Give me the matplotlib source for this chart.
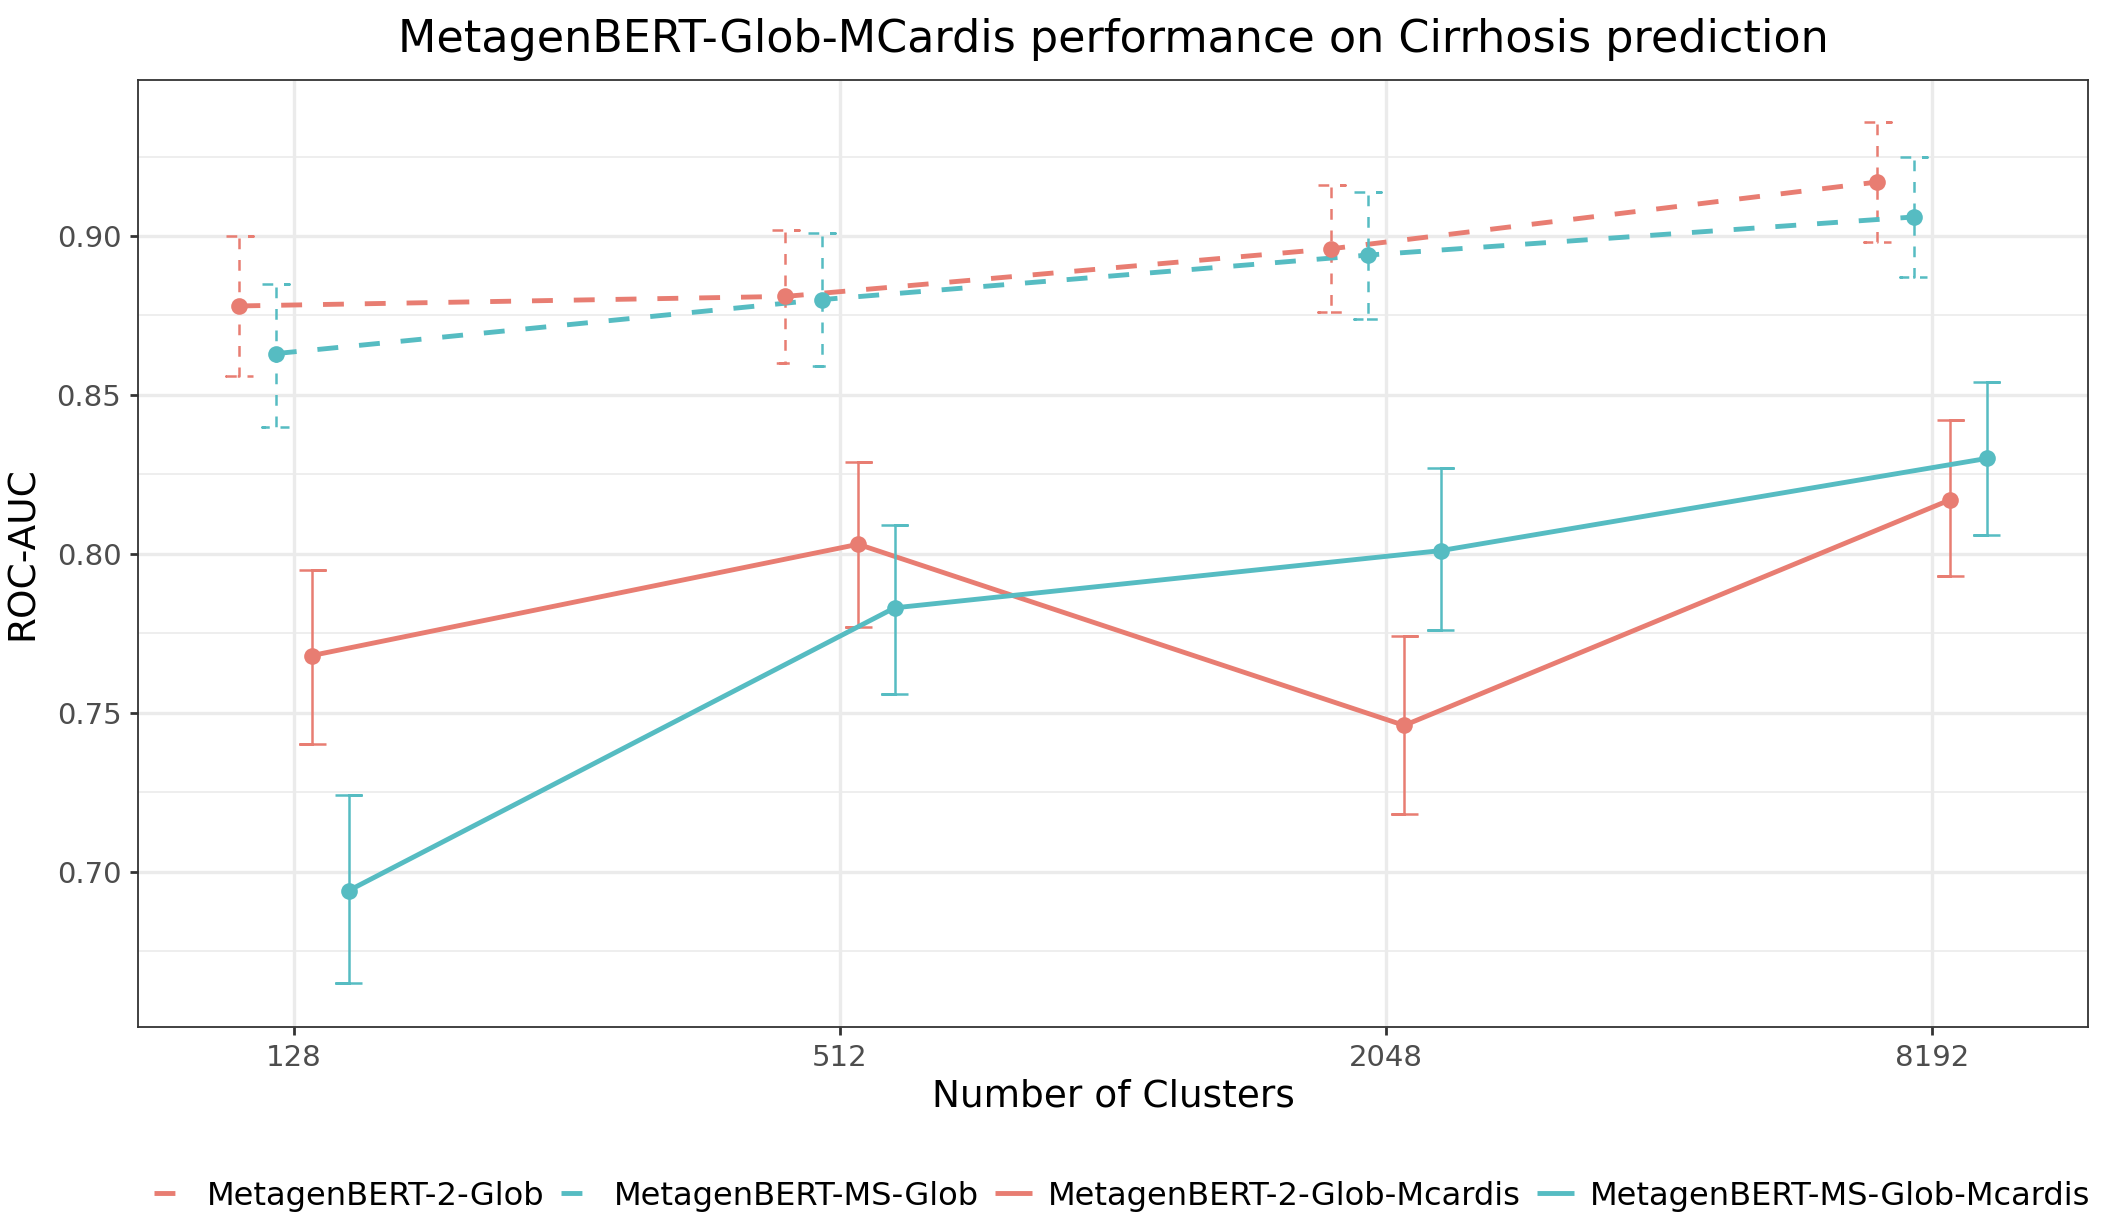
import numpy as np
import matplotlib
matplotlib.use('Agg')
import matplotlib.pyplot as plt

# data
clusters = ['128', '512', '2048', '8192']
series = ['MetagenBERT-2-Glob', 'MetagenBERT-MS-Glob',
          'MetagenBERT-2-Glob-Mcardis', 'MetagenBERT-MS-Glob-Mcardis']

glob2_mean = [0.878, 0.881, 0.896, 0.917]
glob2_lo = [0.856, 0.860, 0.876, 0.898]
glob2_hi = [0.900, 0.902, 0.916, 0.936]

globms_mean = [0.863, 0.880, 0.894, 0.906]
globms_lo = [0.840, 0.859, 0.874, 0.887]
globms_hi = [0.885, 0.901, 0.914, 0.925]

mcardis2_mean = [0.768, 0.803, 0.746, 0.817]
mcardis2_lo = [0.740, 0.777, 0.718, 0.793]
mcardis2_hi = [0.795, 0.829, 0.774, 0.842]

mcardisms_mean = [0.694, 0.783, 0.801, 0.830]
mcardisms_lo = [0.665, 0.756, 0.776, 0.806]
mcardisms_hi = [0.724, 0.809, 0.827, 0.854]

red = '#E87D72'
cyan = '#56BCC2'

means = [glob2_mean, globms_mean, mcardis2_mean, mcardisms_mean]
los = [glob2_lo, globms_lo, mcardis2_lo, mcardisms_lo]
his = [glob2_hi, globms_hi, mcardis2_hi, mcardisms_hi]
colors = [red, cyan, red, cyan]
styles = [(0, (4.3, 4.3)), (0, (4.3, 4.3)), '-', '-']
dodge = [-0.1, -0.0333, 0.0333, 0.1]
capw = 0.025

fig = plt.figure(figsize=(21.04, 12.24), dpi=100)
ax = fig.add_axes([138 / 2104, 1 - 1027 / 1224, (2088 - 138) / 2104, (1027 - 80) / 1224])

xbase = np.arange(len(clusters))
handles = []
for i in range(4):
    x = xbase + dodge[i]
    h, = ax.plot(x, means[i], color=colors[i], lw=3.5, ls=styles[i],
                 label=series[i], zorder=3, solid_capstyle='butt', dash_capstyle='butt')
    handles.append(h)
    # errorbars drawn like ggplot: one path, top cap, stem, bottom cap
    for j in range(len(clusters)):
        xs = [x[j] - capw, x[j] + capw, x[j], x[j], x[j] - capw, x[j] + capw]
        ys = [his[i][j], his[i][j], his[i][j], los[i][j], los[i][j], los[i][j]]
        ax.plot(xs, ys, color=colors[i], lw=1.8, ls=styles[i], zorder=3,
                solid_capstyle='butt', dash_capstyle='butt', solid_joinstyle='miter')
    ax.plot(x, means[i], 'o', color=colors[i], ms=12, mew=0, zorder=4)

ax.set_xlim(-0.2857, 3.2857)
ax.set_ylim(0.6511, 0.9491)
ax.set_xticks(xbase)
ax.set_xticklabels(clusters)
ax.set_yticks([0.70, 0.75, 0.80, 0.85, 0.90])
ax.set_yticklabels(['0.70', '0.75', '0.80', '0.85', '0.90'])
ax.set_yticks([0.675, 0.725, 0.775, 0.825, 0.875, 0.925], minor=True)

ax.grid(True, which='major', color='#EBEBEB', lw=2.4, zorder=0)
ax.grid(True, which='minor', axis='y', color='#EBEBEB', lw=1.2, zorder=0)
ax.set_axisbelow(True)
for s in ax.spines.values():
    s.set_color('#333333')
    s.set_linewidth(1.3)
ax.tick_params(which='major', length=6, width=2, color='#333333',
               labelsize=21, labelcolor='#4D4D4D', pad=6)
ax.tick_params(which='minor', length=0)

ax.set_xlabel('Number of Clusters', fontsize=27, labelpad=5)
ax.set_ylabel('ROC-AUC', fontsize=27, labelpad=11)
ax.set_title('MetagenBERT-Glob-MCardis performance on Cirrhosis prediction',
             fontsize=32, pad=20)

fig.legend(handles=handles, loc='center', bbox_to_anchor=(1122 / 2104, 1 - 1196 / 1224),
           ncol=4, frameon=False, fontsize=23.1, handlelength=1.15,
           handletextpad=0.5, columnspacing=0.5, borderpad=0.2)

fig.savefig('out.png', dpi=100)
